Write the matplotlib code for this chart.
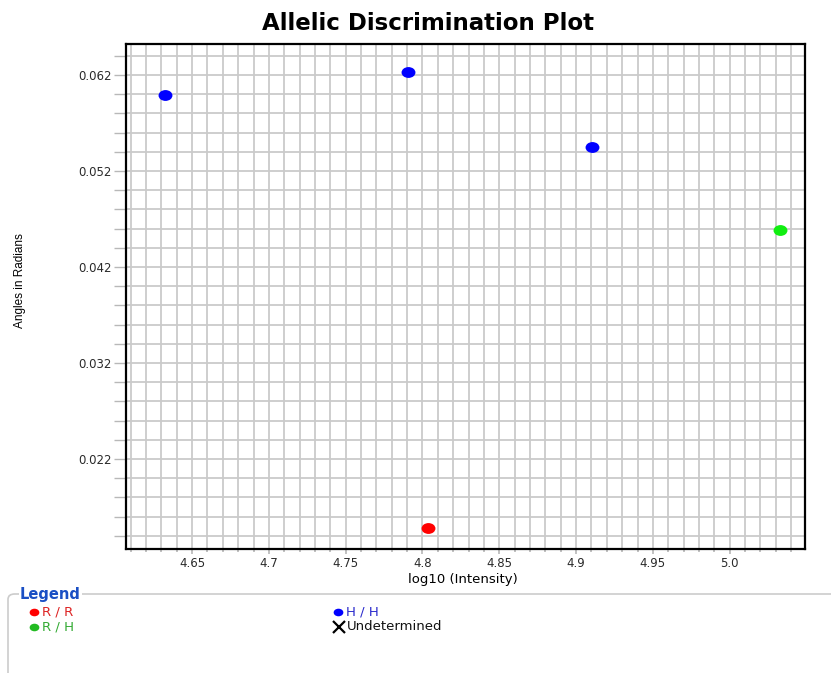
import numpy as np
import matplotlib
matplotlib.use("Agg")
import matplotlib.pyplot as plt
from matplotlib.patches import FancyBboxPatch
from matplotlib.path import Path
from matplotlib.transforms import Affine2D
from matplotlib.ticker import MultipleLocator, FixedLocator

plt.rcParams['font.family'] = ['DejaVu Sans']

# genotype calls
intensity = [4.6324, 4.7908, 4.9104, 5.0326, 4.8039]
angle = [0.05992, 0.06231, 0.05450, 0.04585, 0.01481]
call = ["H / H", "H / H", "H / H", "R / H", "R / R"]

call_colors = {"R / R": "#ff0000", "H / H": "#0000ff", "R / H": "#11ee11"}

x_ticks = [4.65, 4.7, 4.75, 4.8, 4.85, 4.9, 4.95, 5.0]
x_tick_labels = ["4.65", "4.7", "4.75", "4.8", "4.85", "4.9", "4.95", "5.0"]
y_ticks = [0.022, 0.032, 0.042, 0.052, 0.062]
y_tick_labels = ["0.022", "0.032", "0.042", "0.052", "0.062"]

# slightly wide oval marker
oval = Path.unit_circle().transformed(Affine2D().scale(1.28, 1.0))

fig = plt.figure(figsize=(8.31, 6.73), dpi=100)
ax = fig.add_axes([126 / 831, 1 - 549 / 673, (805 - 126) / 831, (549 - 44) / 673])

ax.set_xlim(4.607, 5.049)
ax.set_ylim(0.012625, 0.06523)

ax.xaxis.set_major_locator(FixedLocator(x_ticks))
ax.set_xticklabels(x_tick_labels)
ax.xaxis.set_minor_locator(MultipleLocator(0.01))
ax.yaxis.set_major_locator(FixedLocator(y_ticks))
ax.set_yticklabels(y_tick_labels)
ax.yaxis.set_minor_locator(MultipleLocator(0.002))

ax.grid(which="both", color="#cacaca", linewidth=1.3)
ax.set_axisbelow(True)
ax.tick_params(which="both", colors="#b8b8b8", labelcolor="#2a2a2a", labelsize=8.5)
ax.tick_params(axis="x", which="major", length=3.5, width=1.2, pad=2.5)
ax.tick_params(axis="x", which="minor", length=2.5, width=1.2)
ax.tick_params(axis="y", which="both", length=9, width=1.0, pad=1)
for s in ax.spines.values():
    s.set_color("black")
    s.set_linewidth(1.6)

for gt, col in call_colors.items():
    xs = [x for x, c in zip(intensity, call) if c == gt]
    ys = [y for y, c in zip(angle, call) if c == gt]
    ax.plot(xs, ys, linestyle="none", marker=oval, color=col, markersize=10,
            markeredgewidth=0, zorder=3)

fig.text(428 / 831, 1 - 24 / 673, "Allelic Discrimination Plot", fontsize=16.5,
         fontweight="bold", ha="center", va="center")
fig.text(463 / 831, 1 - 580 / 673, "log10 (Intensity)", fontsize=9.5,
         ha="center", va="center")
fig.text(20 / 831, 1 - 281 / 673, "Angles in Radians", rotation=90, fontsize=8.5,
         ha="center", va="center", family="Liberation Sans")

# legend panel
box = FancyBboxPatch((8 / 831, -0.05), 1.0, 1 - 594 / 673 + 0.05,
                     boxstyle="round,pad=0,rounding_size=0.008",
                     transform=fig.transFigure, facecolor="white",
                     edgecolor="#cccccc", linewidth=1.2)
fig.patches.append(box)
fig.text(20 / 831, 1 - 595 / 673, "Legend", color="#1a4fc4", fontsize=10.5,
         fontweight="bold", va="center", ha="left",
         bbox=dict(facecolor="white", edgecolor="none", pad=1))

legend_items = [
    ("R / R", "#ff0000", "#dd2222", 34, 612, "oval"),
    ("R / H", "#22bb22", "#33aa33", 34, 627, "oval"),
    ("H / H", "#0000ff", "#2a2acc", 338, 612, "oval"),
    ("Undetermined", "black", "#111111", 339, 627, "x"),
]
for label, mcol, tcol, px, py, m in legend_items:
    mk = oval if m == "oval" else "x"
    fig.lines.append(plt.Line2D([px / 831], [1 - py / 673], marker=mk, color=mcol,
                                markersize=7 if m == "oval" else 8,
                                markeredgewidth=0 if m == "oval" else 1.6,
                                transform=fig.transFigure, linestyle="none"))
    fig.text((px + 8) / 831, 1 - py / 673, label, color=tcol, fontsize=9.5,
             va="center", ha="left")

fig.savefig("out.png", dpi=100)
